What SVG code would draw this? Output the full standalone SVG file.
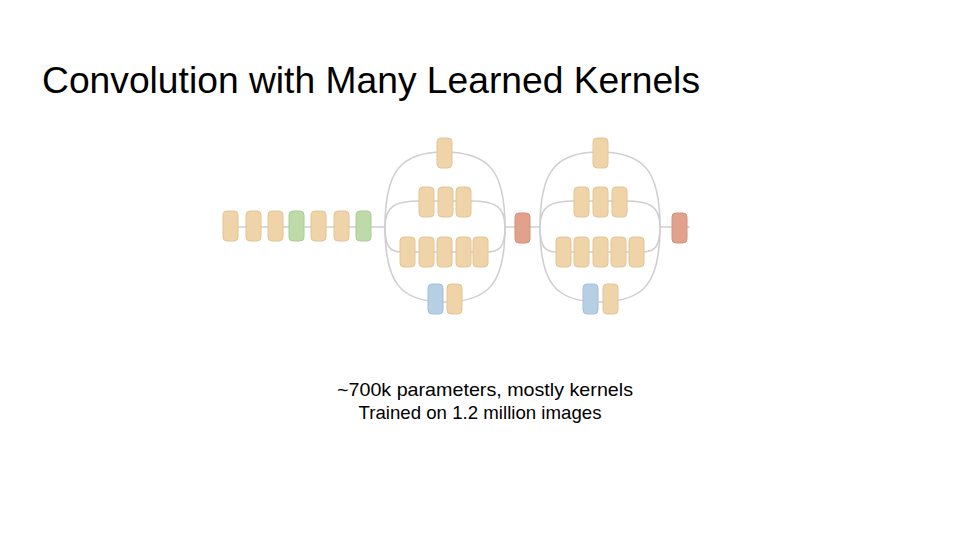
<svg xmlns="http://www.w3.org/2000/svg" width="960" height="540" viewBox="0 0 960 540">
<style>
.ln{fill:none;stroke:#cfcfcf;stroke-width:1.6}
.o{fill:#efd3a9;stroke:#e4c492;stroke-width:1}
.g{fill:#bfdaa9;stroke:#a9cc90;stroke-width:1}
.b{fill:#b7cfe4;stroke:#a2bfd9;stroke-width:1}
.r{fill:#e1a18d;stroke:#d68f7a;stroke-width:1}
.t{font-family:"Liberation Sans",Arial,sans-serif;fill:#000}
</style>
<rect width="960" height="540" fill="#fff"/>
<text class="t" x="42" y="93" font-size="37" textLength="658" lengthAdjust="spacingAndGlyphs">Convolution with Many Learned Kernels</text>
<g id="connectors">
<path class="ln" d="M230,227 H385 M505,227 H540 M660,227 H690"/>
<g id="m1-lines">
<path class="ln" d="M385,227 C385,172 400,152 444,152 C490,152 505,172 505,227"/>
<path class="ln" d="M385,227 C385,206 395,201 420,201 H470 C495,201 505,206 505,227"/>
<path class="ln" d="M385,227 C385,247 390,252 402,252 H486 C500,252 505,247 505,227"/>
<path class="ln" d="M385,227 C385,282 400,302 444,302 C490,302 505,282 505,227"/>
</g>
<g id="m2-lines">
<path class="ln" d="M540,227 C540,172 555,152 599,152 C645,152 660,172 660,227"/>
<path class="ln" d="M540,227 C540,206 550,201 575,201 H625 C650,201 660,206 660,227"/>
<path class="ln" d="M540,227 C540,247 545,252 557,252 H641 C655,252 660,247 660,227"/>
<path class="ln" d="M540,227 C540,282 555,302 599,302 C645,302 660,282 660,227"/>
</g>
</g>
<g id="n1"><rect class="o" x="223" y="211" width="15" height="30" rx="4"/></g>
<g id="n2"><rect class="o" x="246" y="211" width="15" height="30" rx="4"/></g>
<g id="n3"><rect class="o" x="268" y="211" width="15" height="30" rx="4"/></g>
<g id="n4"><rect class="g" x="289" y="211" width="15" height="30" rx="4"/></g>
<g id="n5"><rect class="o" x="311" y="211" width="15" height="30" rx="4"/></g>
<g id="n6"><rect class="o" x="334" y="211" width="15" height="30" rx="4"/></g>
<g id="n7"><rect class="g" x="356" y="211" width="15" height="30" rx="4"/></g>
<g id="m1">
<g id="m1-a1"><rect class="o" x="437" y="138" width="15" height="30" rx="4"/></g>
<g id="m1-b1"><rect class="o" x="419" y="187" width="15" height="30" rx="4"/></g>
<g id="m1-b2"><rect class="o" x="438" y="187" width="15" height="30" rx="4"/></g>
<g id="m1-b3"><rect class="o" x="456" y="187" width="15" height="30" rx="4"/></g>
<g id="m1-c1"><rect class="o" x="400" y="237" width="15" height="30" rx="4"/></g>
<g id="m1-c2"><rect class="o" x="419" y="237" width="15" height="30" rx="4"/></g>
<g id="m1-c3"><rect class="o" x="437" y="237" width="15" height="30" rx="4"/></g>
<g id="m1-c4"><rect class="o" x="456" y="237" width="15" height="30" rx="4"/></g>
<g id="m1-c5"><rect class="o" x="473" y="237" width="15" height="30" rx="4"/></g>
<g id="m1-d1"><rect class="b" x="428" y="284" width="15" height="30" rx="4"/></g>
<g id="m1-d2"><rect class="o" x="447" y="284" width="15" height="30" rx="4"/></g>
</g>
<g id="p1"><rect class="r" x="515" y="213" width="15" height="30" rx="4"/></g>
<g id="m2">
<g id="m2-a1"><rect class="o" x="593" y="138" width="15" height="30" rx="4"/></g>
<g id="m2-b1"><rect class="o" x="574" y="187" width="15" height="30" rx="4"/></g>
<g id="m2-b2"><rect class="o" x="593" y="187" width="15" height="30" rx="4"/></g>
<g id="m2-b3"><rect class="o" x="612" y="187" width="15" height="30" rx="4"/></g>
<g id="m2-c1"><rect class="o" x="556" y="237" width="15" height="30" rx="4"/></g>
<g id="m2-c2"><rect class="o" x="574" y="237" width="15" height="30" rx="4"/></g>
<g id="m2-c3"><rect class="o" x="593" y="237" width="15" height="30" rx="4"/></g>
<g id="m2-c4"><rect class="o" x="611" y="237" width="15" height="30" rx="4"/></g>
<g id="m2-c5"><rect class="o" x="629" y="237" width="15" height="30" rx="4"/></g>
<g id="m2-d1"><rect class="b" x="583" y="284" width="15" height="30" rx="4"/></g>
<g id="m2-d2"><rect class="o" x="603" y="284" width="15" height="30" rx="4"/></g>
</g>
<g id="p2"><rect class="r" x="672" y="213" width="15" height="30" rx="4"/></g>
<text class="t" x="485" y="396" font-size="19" text-anchor="middle" textLength="296" lengthAdjust="spacingAndGlyphs">~700k parameters, mostly kernels</text>
<text class="t" x="480" y="419" font-size="19" text-anchor="middle" textLength="243" lengthAdjust="spacingAndGlyphs">Trained on 1.2 million images</text>
</svg>
